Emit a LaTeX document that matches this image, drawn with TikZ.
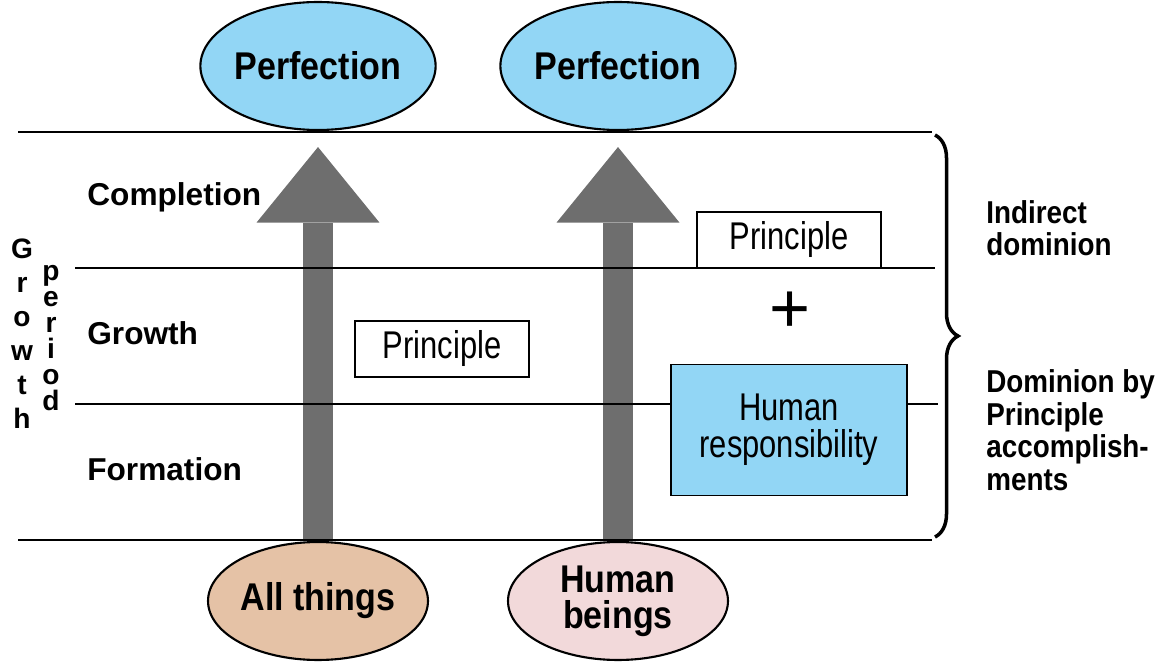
\documentclass[tikz,border=0pt]{standalone}
\usepackage{fontspec}
\setmainfont{Liberation Sans}
\newfontfamily\narrowfont{Liberation Sans}[FakeStretch=0.88]
\newfontfamily\condfont{Liberation Sans}[FakeStretch=0.8]
\usetikzlibrary{arrows.meta}
\usetikzlibrary{shapes.geometric, decorations.pathreplacing}

\definecolor{skyblue}{HTML}{92D6F5}
\definecolor{tan}{HTML}{E5C2A6}
\definecolor{rosy}{HTML}{F2D9DA}
\definecolor{arrowgray}{HTML}{6E6E6E}

\pgfdeclarelayer{behind}
\pgfsetlayers{behind,main}

\begin{document}
\begin{tikzpicture}[x=0.02cm, y=-0.02cm,
  goal/.style={ellipse, draw, line width=1.2pt, inner sep=0pt, align=center,
    minimum width=4.44cm, minimum height=2.56cm,
    font=\narrowfont\bfseries\fontsize{22}{20.5}\selectfont},
  start/.style={goal, minimum width=4.4cm, minimum height=2.36cm},
  stage/.style={anchor=west, inner sep=0pt, font=\bfseries\fontsize{18}{18}\selectfont},
  letter/.style={anchor=base, inner sep=0pt, font=\bfseries\fontsize{16}{16}\selectfont},
  rulebox/.style={draw, line width=1.1pt, fill=white, inner sep=0pt,
    minimum height=1.12cm, font=\condfont\fontsize{22}{22}\selectfont},
  side/.style={anchor=west, inner sep=0pt, align=left,
    font=\narrowfont\bfseries\fontsize{18}{18.5}\selectfont},
  bigarrow/.style={draw=arrowgray, line width=17.6pt,
    -{Triangle[width=70pt, length=43pt, line width=0pt]}, shorten >=0.32cm}]
\useasboundingbox (0,0) rectangle (1169,662);

% stage lines
\draw[line width=1.7pt] (18,132) -- (932,132);
\draw[line width=1.2pt] (75,268) -- (935,268);
\draw[line width=1.2pt] (75,404) -- (938,404);
\draw[line width=1.7pt] (18,540) -- (932,540);

% ellipses at both ends
\node[goal, fill=skyblue] at (318,66) (perfthings) {Perfection};
\node[goal, fill=skyblue] at (618,66) (perfhuman) {Perfection};
\node[start, fill=tan] at (318,601) (things) {All things};
\node[start, fill=rosy] at (618,601) (human) {Human\\beings};

% growth arrows, under the lines
\begin{pgfonlayer}{behind}
\draw[bigarrow] (things) -- (perfthings);
\draw[bigarrow] (human) -- (perfhuman);
\end{pgfonlayer}

\node[stage] at (87,197) (completion) {Completion};
\node[stage] at (87,333) (growth) {Growth};
\node[stage] at (87,469) (formation) {Formation};

\foreach \ch [count=\i] in {G,r,o,w,t,h}
  \node[letter] at (22,{224+34*\i}) (g\i) {\ch};
\foreach \ch [count=\i] in {p,e,r,i,o,d}
  \node[letter] at (51,{254+26*\i}) (p\i) {\ch};

% boxes
\node[rulebox, minimum width=3.48cm] at (442,349) (rulethings) {Principle};
\node[rulebox, minimum width=3.68cm] at (789,240) (rulehuman) {Principle};
\node[font=\fontsize{40}{40}\selectfont, inner sep=0pt] at (790,312) (plus) {+};
\node[rulebox, fill=skyblue, minimum width=4.72cm, minimum height=2.62cm, align=center,
  font=\condfont\fontsize{22}{21}\selectfont] at (789,430) (respons) {Human\\responsibility};

% brace and its labels
\draw[line width=2pt, decorate, decoration={brace, amplitude=0.46cm}] (935,135) -- (935,537);
\node[side] at (986,228) (indirect) {Indirect\\dominion};
\node[side] at (986,430) (byrule) {Dominion by\\Principle\\accomplish-\\ments};
\end{tikzpicture}
\end{document}
